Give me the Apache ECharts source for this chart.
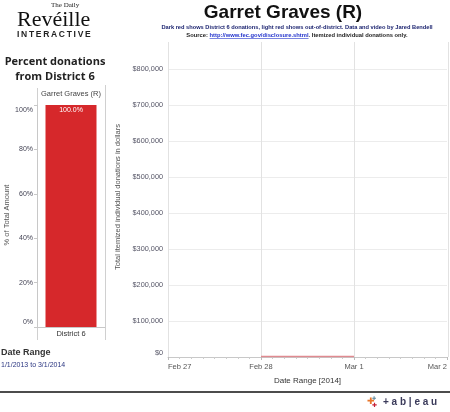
<!DOCTYPE html>
<html><head><meta charset="utf-8">
<script src="https://cdn.jsdelivr.net/npm/echarts@6/dist/echarts.min.js"></script>
<style>html,body{margin:0;padding:0;background:#fff}#c{width:450px;height:412px}</style>
</head><body><div id="c"></div>
<script>
// ---- data ----
const barCategories = ['District 6'];
const barValues = [100.0];
const barHeader = 'Garret Graves (R)';
const pctTickLabels = ['0%', '20%', '40%', '60%', '80%', '100%'];
const dateTickLabels = ['Feb 27', 'Feb 28', 'Mar 1', 'Mar 2'];
const donationDates = ['2014-02-28', '2014-03-01'];
const outOfDistrictAmounts = [1500, 1500];

const DAY = 86400000;
function ts(s) { const p = s.split('-'); return Date.UTC(+p[0], +p[1] - 1, +p[2]); }
const xMin = ts('2014-02-27'), xMax = ts('2014-03-02');
const F = '"Liberation Sans", Arial, sans-serif';

// measure subtitle line 2 segments
const mctx = document.createElement('canvas').getContext('2d');
const subFont = 'bold 5.8px ' + F;
mctx.font = subFont;
const seg1 = 'Source: ', seg2 = 'http://www.fec.gov/disclosure.shtml', seg3 = '. Itemized individual donations only.';
const w1 = mctx.measureText(seg1).width, w2 = mctx.measureText(seg2).width, w3 = mctx.measureText(seg3).width;
const sx = 297 - (w1 + w2 + w3) / 2;

const chart = echarts.init(document.getElementById('c'), null, { renderer: 'canvas' });
const thin = '\u2009';
chart.setOption({
  animation: false,
  textStyle: { fontFamily: F },
  grid: [
    { left: 37, top: 105, width: 68, bottom: 85 },
    { left: 168, top: 69, right: 2, bottom: 55 },
    { left: 168, top: 42, right: 2, bottom: 55 }
  ],
  xAxis: [
    { type: 'category', gridIndex: 0, data: barCategories,
      axisLine: { lineStyle: { color: '#c8c8c8' } }, axisTick: { show: false },
      axisLabel: { color: '#333', fontSize: 7.5, margin: 3 } },
    { type: 'value', gridIndex: 1, min: xMin, max: xMax, interval: DAY,
      axisLine: { show: true, lineStyle: { color: '#c8c8c8' } },
      axisTick: { show: true, length: 3, lineStyle: { color: '#bbb' } },
      minorTick: { show: true, splitNumber: 8, length: 2, lineStyle: { color: '#ccc' } },
      splitLine: { show: false },
      axisLabel: { color: '#555', fontSize: 7.5, margin: 6, alignMinLabel: 'left', alignMaxLabel: 'right',
        formatter: v => dateTickLabels[Math.round((v - xMin) / DAY)] || '' },
      name: 'Date Range [2014]', nameLocation: 'middle', nameGap: 20,
      nameTextStyle: { color: '#333', fontSize: 8 } },
    { type: 'value', gridIndex: 2, min: xMin, max: xMax, interval: DAY,
      axisLine: { show: false }, axisTick: { show: false }, axisLabel: { show: false },
      splitLine: { show: true, lineStyle: { color: '#e2e2e2', width: 1 } } }
  ],
  yAxis: [
    { type: 'value', gridIndex: 0, min: 0, max: 100, interval: 20,
      axisLine: { show: true, lineStyle: { color: '#c8c8c8' } },
      axisTick: { show: true, length: 3, lineStyle: { color: '#c8c8c8' } },
      splitLine: { show: false },
      axisLabel: { color: '#445', fontSize: 7, margin: 4,
        formatter: v => { const t = pctTickLabels[v / 20]; return v === 0 ? '{lo|' + t + '}' : v === 100 ? '{hi|' + t + '}' : t; },
        rich: { lo: { fontSize: 7, color: '#445', padding: [0, 0, 10, 0] }, hi: { fontSize: 7, color: '#445', padding: [10, 0, 0, 0] } } } },
    { type: 'value', gridIndex: 1, min: 0, max: 800000, interval: 100000,
      axisLine: { show: false }, axisTick: { show: false },
      splitLine: { show: true, lineStyle: { color: '#ececec' } },
      axisLabel: { color: '#556', fontSize: 7.3, margin: 5,
        formatter: v => v === 0 ? '{lo|$0}' : '$' + v.toLocaleString('en-US'),
        rich: { lo: { fontSize: 7.3, color: '#556', padding: [0, 0, 8, 0] } } } },
    { type: 'value', gridIndex: 2, show: false, min: 0, max: 1 }
  ],
  series: [
    { type: 'bar', xAxisIndex: 0, yAxisIndex: 0, data: barValues, barWidth: 51,
      itemStyle: { color: '#d6282b' },
      label: { show: true, position: 'insideTop', distance: 2, color: '#fff', fontSize: 7,
        formatter: p => p.value.toFixed(1) + '%' } },
    { type: 'line', xAxisIndex: 1, yAxisIndex: 1, showSymbol: false,
      data: donationDates.map((d, i) => [ts(d), outOfDistrictAmounts[i]]),
      lineStyle: { color: '#e08a90', width: 1.5 }, areaStyle: { color: '#f2c4c7' } }
  ],
  graphic: [
    // logo
    { type: 'text', left: 51, top: 2, style: { text: 'The Daily', font: '7px "Liberation Serif", serif', fill: '#222' } },
    { type: 'text', left: 17, top: 9, style: { text: 'Revéille', font: '22px "Liberation Serif", "DejaVu Serif", serif', fill: '#111' } },
    { type: 'text', left: 17, top: 30, style: { text: 'INTERACTIVE'.split('').join(thin), font: 'bold 8.5px ' + F, fill: '#222' } },
    // title
    { type: 'text', x: 283, y: 13, style: { text: 'Garret Graves (R)', font: 'bold 19px ' + F, fill: '#111', align: 'center', verticalAlign: 'middle' } },
    { type: 'text', x: 297, y: 27, style: { text: 'Dark red shows District 6 donations, light red shows out-of-district. Data and video by Jared Bendell', font: 'bold 5.7px ' + F, fill: '#1c2470', align: 'center', verticalAlign: 'middle' } },
    { type: 'text', x: sx, y: 35, style: { text: seg1, font: subFont, fill: '#222', verticalAlign: 'middle' } },
    { type: 'text', x: sx + w1, y: 35, style: { text: seg2, font: subFont, fill: '#2233cc', verticalAlign: 'middle' } },
    { type: 'line', shape: { x1: sx + w1, y1: 38.5, x2: sx + w1 + w2, y2: 38.5 }, style: { stroke: '#2233cc', lineWidth: 0.6 } },
    { type: 'text', x: sx + w1 + w2, y: 35, style: { text: seg3, font: subFont, fill: '#222', verticalAlign: 'middle' } },
    // left panel
    { type: 'text', x: 55, y: 62, style: { text: 'Percent donations', font: 'bold 11px "Open Sans", ' + F, fill: '#222', align: 'center', verticalAlign: 'middle' } },
    { type: 'text', x: 55, y: 77, style: { text: 'from District 6', font: 'bold 11px "Open Sans", ' + F, fill: '#222', align: 'center', verticalAlign: 'middle' } },
    { type: 'text', x: 71, y: 94, style: { text: barHeader, font: '7.5px ' + F, fill: '#444', align: 'center', verticalAlign: 'middle' } },
    { type: 'line', shape: { x1: 37.5, y1: 88, x2: 37.5, y2: 340 }, style: { stroke: '#d0d0d0', lineWidth: 1 } },
    { type: 'line', shape: { x1: 105.5, y1: 85, x2: 105.5, y2: 340 }, style: { stroke: '#d0d0d0', lineWidth: 1 } },
    { type: 'text', x: 7, y: 215, rotation: Math.PI / 2, style: { text: '% of Total Amount', font: '7.5px ' + F, fill: '#555', align: 'center', verticalAlign: 'middle' } },
    { type: 'text', x: 118, y: 197, rotation: Math.PI / 2, style: { text: 'Total itemized individual donations in dollars', font: '7.5px ' + F, fill: '#555', align: 'center', verticalAlign: 'middle' } },
    { type: 'text', x: 1, y: 353, style: { text: 'Date Range', font: 'bold 9px ' + F, fill: '#333', verticalAlign: 'middle' } },
    { type: 'text', x: 1, y: 365, style: { text: '1/1/2013 to 3/1/2014', font: '7px ' + F, fill: '#2a3580', verticalAlign: 'middle' } },
    // footer
    { type: 'line', shape: { x1: 0, y1: 392, x2: 450, y2: 392 }, style: { stroke: '#111', lineWidth: 1.5 } },
    { type: 'text', x: 367, y: 402, style: { text: '✚', font: '9px "DejaVu Sans"', fill: '#e8762b', verticalAlign: 'middle' } },
    { type: 'text', x: 372, y: 405, style: { text: '✚', font: '6px "DejaVu Sans"', fill: '#c72035', verticalAlign: 'middle' } },
    { type: 'text', x: 372, y: 399, style: { text: '✚', font: '5px "DejaVu Sans"', fill: '#5b879b', verticalAlign: 'middle' } },
    { type: 'text', x: 383, y: 402, style: { text: '+ a b | e a u', font: 'bold 10px ' + F, fill: '#3a3a5a', verticalAlign: 'middle' } }
  ]
});
</script></body></html>
